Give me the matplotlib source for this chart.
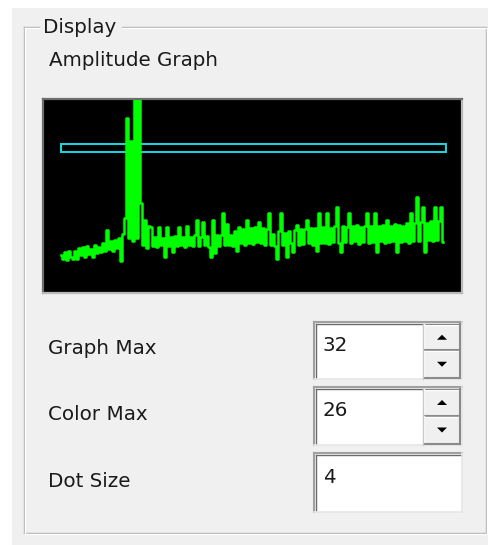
import matplotlib.pyplot as plt
from matplotlib.patches import Rectangle, Polygon

# -------------------------------
# Data
# -------------------------------

# one sample every 2 px, starting at the left end of the trace
amplitude = [
    6.2, 5.6, 6.8, 5.5, 7.0, 6.0, 5.6, 6.9, 5.6,
    7.4, 6.2, 7.6, 5.9, 7.8, 6.5, 7.2, 6.0, 8.0, 6.6, 7.6,
    6.8, 8.3, 7.0, 10.4, 7.2, 8.6, 6.9, 8.8, 7.4, 9.0,
    5.2, 9.8, 12.4,
    28.9, 9.0, 25.0, 8.5, 40.0, 9.0, 40.0,
    14.8, 8.0, 12.0, 7.4, 11.0,
    10.9, 7.8, 9.2, 7.6, 10.9, 8.0, 9.1, 5.9, 10.9, 7.8,
    9.2, 6.8, 9.4, 7.7, 10.9, 7.9, 9.3, 7.6, 11.0, 8.0,
    9.2, 7.7, 9.5, 12.0, 7.8, 9.3, 11.7, 7.9, 9.4, 7.6,
    6.0, 12.0, 6.6, 9.5, 7.8, 9.6, 13.2, 7.9, 11.3, 8.0,
    9.6, 7.8, 10.2, 7.0, 10.9, 8.2, 10.6, 8.0, 12.0, 8.3,
    10.8, 8.1, 10.9, 8.4, 11.7, 8.2, 10.8, 8.0, 10.6, 13.2,
    8.0, 9.8, 7.8, 5.6, 10.2, 13.2, 8.0, 9.9, 5.9, 10.3,
    8.2, 6.8, 10.4, 11.2, 8.0, 10.5, 8.1, 10.6, 12.0, 8.2,
    10.7, 8.0, 10.8, 7.0, 13.2, 8.2, 10.9, 8.3, 13.2, 8.1,
    10.8, 8.4, 11.0, 14.2, 8.2, 6.8, 11.0, 8.4, 10.9, 13.2,
    8.3, 11.0, 8.5, 11.2, 8.1, 10.9, 8.4, 11.1, 13.2, 8.3,
    11.0, 8.4, 13.2, 6.8, 11.1, 8.5, 11.2, 8.3, 12.0, 8.4,
    11.1, 8.5, 11.3, 6.8, 11.2, 8.4, 11.0, 8.6, 11.5, 8.3,
    13.2, 8.5, 11.6, 15.8, 8.6, 11.7, 14.2, 6.8, 11.5, 8.7,
    11.8, 8.6, 14.2, 8.8, 11.9, 14.2, 8.4,
]
sample = list(range(len(amplitude)))

# cyan threshold box
threshold_lo = 23.3
threshold_hi = 24.6
threshold_end = 192.5

graph_max = 32
labels = ['Graph Max', 'Color Max', 'Dot Size']
values = ['32', '26', '4']

# -------------------------------
# Figure and panel
# -------------------------------
W, H = 489, 545
fig = plt.figure(figsize=(W / 100, H / 100), dpi=100)
fig.patch.set_facecolor('white')

ui = fig.add_axes([0, 0, 1, 1])
ui.set_xlim(0, W)
ui.set_ylim(H, 0)
ui.axis('off')

ui.add_patch(Rectangle((12, 8), W - 12, H - 8, facecolor='#f0f0f0', edgecolor='none'))

# group box (etched line)
gb_col = '#b0b0b0'
for dx, col in [(0, gb_col), (1.2, 'white')]:
    ui.plot([24 + dx, 24 + dx], [27 + dx, 533 + dx], color=col, lw=1.0)
    ui.plot([24 + dx, 486 + dx], [533 + dx, 533 + dx], color=col, lw=1.0)
    ui.plot([486 + dx, 486 + dx], [27 + dx, 533 + dx], color=col, lw=1.0)
    ui.plot([24 + dx, 39], [27 + dx, 27 + dx], color=col, lw=1.0)
    ui.plot([122, 486 + dx], [27 + dx, 27 + dx], color=col, lw=1.0)

font = 'DejaVu Sans'
fs = 14.3
tc = '#1a1a1a'
ui.text(43, 33, 'Display', fontsize=fs, color=tc, family=font, va='baseline')
ui.text(49, 66, 'Amplitude Graph', fontsize=fs, color=tc, family=font, va='baseline')

label_base = [354, 420, 487]
for lab, yb in zip(labels, label_base):
    ui.text(48, yb, lab, fontsize=fs, color=tc, family=font, va='baseline')

# -------------------------------
# Edit boxes with spin buttons
# -------------------------------
boxes = [(322, 379, True), (387, 445, True), (453, 512, False)]
value_base = [351, 416, 483]
for (y0, y1, spin), val, yb in zip(boxes, values, value_base):
    x0, x1 = 314, 462
    ui.add_patch(Rectangle((x0, y0), x1 - x0, y1 - y0, facecolor='white', edgecolor='none'))
    ui.plot([x0, x1], [y0, y0], color='#a0a0a0', lw=1.5)
    ui.plot([x0, x0], [y0, y1], color='#a0a0a0', lw=1.5)
    ui.plot([x0 + 1.5, x1 - 1.5], [y0 + 1.5, y0 + 1.5], color='#6a6a6a', lw=1.0)
    ui.plot([x0 + 1.5, x0 + 1.5], [y0 + 1.5, y1 - 1.5], color='#6a6a6a', lw=1.0)
    ui.plot([x0, x1], [y1, y1], color='#e6e6e6', lw=1.2)
    ui.plot([x1, x1], [y0, y1], color='#e6e6e6', lw=1.2)
    ui.text(323, yb, val, fontsize=fs, color=tc, family=font, va='baseline')
    if spin:
        bx0, bx1 = 424, 460
        ym = (y0 + y1) / 2
        for by0, by1, up in [(y0 + 2, ym, True), (ym, y1 - 1, False)]:
            ui.add_patch(Rectangle((bx0, by0), bx1 - bx0, by1 - by0,
                                   facecolor='#f0f0f0', edgecolor='none'))
            ui.plot([bx0, bx1], [by0 + 0.5, by0 + 0.5], color='white', lw=1.0)
            ui.plot([bx0, bx0], [by0, by1], color='white', lw=1.0)
            ui.plot([bx0, bx1], [by1 - 0.5, by1 - 0.5], color='#8a8a8a', lw=1.5)
            ui.plot([bx1, bx1], [by0, by1], color='#8a8a8a', lw=1.5)
            cx, cy = (bx0 + bx1) / 2, (by0 + by1) / 2
            if up:
                tri = [(cx - 5, cy + 2.5), (cx + 5, cy + 2.5), (cx, cy - 2.5)]
            else:
                tri = [(cx - 5, cy - 2.5), (cx + 5, cy - 2.5), (cx, cy + 2.5)]
            ui.add_patch(Polygon(tri, closed=True, facecolor='black', edgecolor='none'))
        ui.plot([bx0 - 1, bx0 - 1], [y0 + 2, y1], color='#c8c8c8', lw=1.0)

# -------------------------------
# Amplitude graph
# -------------------------------
gx0, gx1, gy0, gy1 = 43, 462, 99, 293
ax = fig.add_axes([gx0 / W, (H - gy1) / H, (gx1 - gx0) / W, (gy1 - gy0) / H])
ax.set_facecolor('black')
ax.set_xlim(-9, 200.5)
ax.set_ylim(0, graph_max)
ax.set_xticks([])
ax.set_yticks([])
for side, sp in ax.spines.items():
    sp.set_linewidth(1.6)
    sp.set_color('#6e6e6e' if side in ('top', 'left') else '#b8b8b8')

ax.plot(sample, amplitude, drawstyle='steps-mid', color='#00ff00', lw=1.8)

ax.add_patch(Rectangle((0, threshold_lo), threshold_end, threshold_hi - threshold_lo,
                       facecolor='none', edgecolor='#18d8e8', lw=1.4))

fig.savefig('out.png', dpi=100, facecolor=fig.get_facecolor())
